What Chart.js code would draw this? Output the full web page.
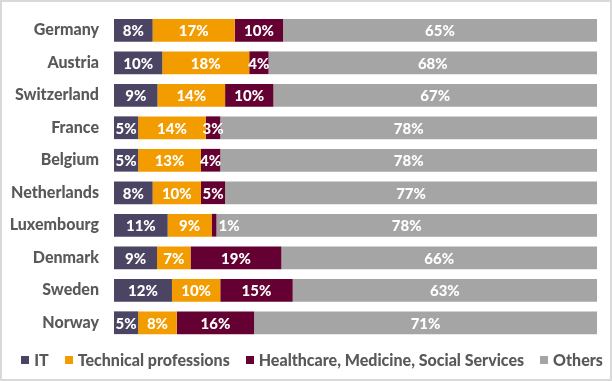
<!DOCTYPE html>
<html>
<head>
<meta charset="utf-8">
<script src="https://cdn.jsdelivr.net/npm/chart.js@4"></script>
<style>
html,body{margin:0;padding:0;background:#fff;}
#wrap{width:612px;height:381px;position:relative;}
</style>
</head>
<body>
<div id="wrap"><canvas id="c" width="612" height="381"></canvas></div>
<script>
const countries = ["Germany","Austria","Switzerland","France","Belgium","Netherlands","Luxembourg","Denmark","Sweden","Norway"];
const seriesNames = ["IT","Technical professions","Healthcare, Medicine, Social Services","Others"];
const itShare        = [8, 10, 9, 5, 5, 8, 11, 9, 12, 5];
const technicalShare = [17, 18, 14, 14, 13, 10, 9, 7, 10, 8];
const healthShare    = [10, 4, 10, 3, 4, 5, 1, 19, 15, 16];
const othersShare    = [65, 68, 67, 78, 78, 77, 78, 66, 63, 71];
const seriesColors = ["#4b4462", "#f39c00", "#650032", "#a5a5a5"];

const raw = [itShare, technicalShare, healthShare, othersShare];
const totals = countries.map((_, i) => raw.reduce((s, arr) => s + arr[i], 0));

const labelPlugin = {
  id: 'segLabels',
  afterDatasetsDraw(chart) {
    const ctx = chart.ctx;
    ctx.save();
    ctx.font = '900 15px Lato';
    ctx.fillStyle = '#ffffff';
    ctx.textBaseline = 'middle';
    chart.data.datasets.forEach((ds, di) => {
      const meta = chart.getDatasetMeta(di);
      meta.data.forEach((el, i) => {
        const txt = ds.rawValues[i] + '%';
        const w = Math.abs(el.x - el.base);
        const left = Math.min(el.x, el.base);
        if (w < 8) {
          ctx.textAlign = 'left';
          ctx.fillText(txt, Math.max(el.x, el.base) + 2, el.y + 1);
        } else {
          ctx.textAlign = 'center';
          ctx.fillText(txt, left + w / 2, el.y + 1);
        }
      });
    });
    ctx.restore();
  }
};
const legendPlugin = {
  id: 'rowLegend',
  afterDraw(chart) {
    const ctx = chart.ctx;
    ctx.save();
    ctx.font = '900 16px Lato';
    ctx.textBaseline = 'middle';
    ctx.textAlign = 'left';
    const box = 8, gapText = 5, gapItem = 16, cy = 360;
    const items = chart.data.datasets.map(ds => ({ label: ds.label, color: ds.backgroundColor, w: ctx.measureText(ds.label).width }));
    const total = items.reduce((s, it) => s + box + gapText + it.w, 0) + gapItem * (items.length - 1);
    let x = 312 - total / 2;
    items.forEach(it => {
      ctx.fillStyle = it.color;
      ctx.fillRect(Math.round(x), cy - 4, box, box);
      ctx.fillStyle = '#595959';
      ctx.fillText(it.label, x + box + gapText, cy + 1);
      x += box + gapText + it.w + gapItem;
    });
    ctx.strokeStyle = '#d9d9d9';
    ctx.lineWidth = 2;
    ctx.strokeRect(1, 1, chart.width - 2, chart.height - 2);
    ctx.restore();
  }
};

new Chart(document.getElementById('c'), {
  type: 'bar',
  data: {
    labels: countries,
    datasets: raw.map((arr, k) => ({
      label: seriesNames[k],
      data: arr.map((v, i) => v / totals[i] * 100),
      rawValues: arr,
      backgroundColor: seriesColors[k],
      borderWidth: 0,
      barPercentage: 0.7,
      categoryPercentage: 1.0
    }))
  },
  options: {
    indexAxis: 'y',
    responsive: false,
    animation: false,
    layout: { padding: { left: 0, right: 15, top: 14, bottom: 42 } },
    scales: {
      x: { stacked: true, min: 0, max: 100, display: false },
      y: {
        stacked: true,
        grid: { display: false, drawTicks: false },
        border: { display: false },
        ticks: { font: { family: 'Lato', weight: 900, size: 16 }, color: '#595959', padding: 15 },
        afterFit(scale) { scale.width = 114; scale.paddingTop = 0; scale.paddingBottom = 0; }
      }
    },
    plugins: {
      legend: { display: false },
      tooltip: { enabled: false }
    }
  },
  plugins: [labelPlugin, legendPlugin]
});
</script>
</body>
</html>
